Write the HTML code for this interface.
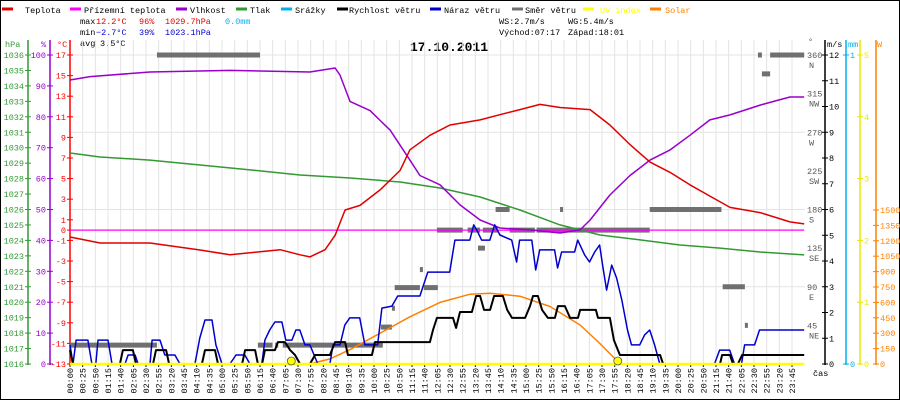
<!DOCTYPE html>
<html><head><meta charset="utf-8"><style>
html,body{margin:0;padding:0;background:#fff}
svg{display:block}
text{font-family:"Liberation Mono",monospace;font-size:8.5px}
</style></head><body>
<svg id="chart" width="900" height="400" viewBox="0 0 900 400" xmlns="http://www.w3.org/2000/svg">
<rect x="0.5" y="0.5" width="899" height="399" fill="#fff" stroke="#000"/>
<g id="legend"></g>
<g>
<text x="80" y="24">max</text>
<text x="96" y="24" fill="#e00000">12.2°C</text>
<text x="139" y="24" fill="#e00000">96%</text>
<text x="165" y="24" fill="#e00000">1029.7hPa</text>
<text x="225" y="24" fill="#00b0f0">0.0mm</text>
<text x="80" y="35">min</text>
<text x="96" y="35" fill="#0000d0">−2.7°C</text>
<text x="139" y="35" fill="#0000d0">39%</text>
<text x="165" y="35" fill="#0000d0">1023.1hPa</text>
<text x="80" y="46">avg</text>
<text x="100" y="46">3.5°C</text>
<text x="499" y="24">WS:2.7m/s</text>
<text x="568" y="24">WG:5.4m/s</text>
<text x="499" y="35">Východ:07:17</text>
<text x="568" y="35">Západ:18:01</text>
<text x="449" y="51" text-anchor="middle" style="font-size:13px;font-weight:bold">17.10.2011</text>
</g>
<g id="grid"></g>
<g id="axes"></g>
<g id="series"></g>
</svg>
<script>
// ---- data ----
const tempH=[0,0.99,2.63,4.28,5.26,6.25,6.91,7.57,7.89,8.39,8.72,9.05,9.54,10.2,10.86,11.18,11.84,12.5,13.49,14.14,14.8,15.46,16.12,17.11,17.76,18.42,19.08,19.74,20.39,21.05,21.71,22.7,23.68,24.15];
const tempV=[-0.67,-1.25,-1.25,-1.93,-2.4,-2.1,-1.9,-2.4,-2.6,-1.9,-0.5,1.95,2.4,3.9,5.8,7.8,9.2,10.2,10.7,11.2,11.7,12.2,11.9,11.7,10.2,8.3,6.6,5.6,4.4,3.3,2.2,1.7,0.8,0.6];
const feelH=[0,24.15];
const feelV=[0,0];
const humH=[0,0.66,2.63,5.26,7.89,8.72,8.88,9.21,9.87,10.53,11.18,11.51,12.17,12.83,13.49,14.14,15.13,16.12,16.78,17.11,17.76,18.42,19.08,19.74,20.39,21.05,21.71,22.7,23.68,24.15];
const humV=[91.9,93,94.5,95,94.5,95.8,93.5,85,82,75.7,66,61,58,51.5,46.6,44,43.4,42.4,43.4,46.6,54.7,61,66,69.3,74,79,80.6,83.8,86.4,86.4];
const presH=[0,0.99,2.63,4.28,5.92,7.57,9.21,10.86,12.17,13.49,14.8,16.12,17.43,18.75,20.07,21.38,22.7,24.15];
const presV=[1029.66,1029.4,1029.2,1028.88,1028.56,1028.23,1028.04,1027.78,1027.39,1026.81,1025.97,1025.0,1024.35,1024.03,1023.7,1023.5,1023.25,1023.06];
const gustH=[0,0.1,0.2,0.59,0.72,0.85,0.92,1.25,1.38,1.81,1.91,2.14,2.24,2.63,2.7,2.96,3.12,3.45,3.62,4.11,4.27,4.44,4.67,4.8,5,5.26,5.46,5.75,5.92,6.31,6.41,6.57,6.74,6.97,7.1,7.3,7.43,7.56,7.73,7.89,8.15,8.55,8.65,8.88,9.04,9.2,9.53,9.7,10.12,10.26,10.59,10.78,11.51,11.77,12.49,12.66,13.15,13.28,13.41,13.54,13.81,13.97,14.14,14.53,14.69,14.79,15.19,15.32,15.45,15.94,16.04,16.17,16.6,16.7,16.93,17.09,17.26,17.42,17.52,17.65,17.82,17.98,18.15,18.34,18.47,18.74,18.9,19.07,19.23,19.4,21.2,21.37,21.7,21.86,22.09,22.19,22.52,22.68,24.15];
const gustV=[0.74,0,0.93,0.93,0,0,0.93,0.93,0,0,0.35,0.35,0,0,0.93,0.93,0.35,0.35,0,0,1.01,1.71,1.71,0.74,0,0,0.35,0.35,0,0,0.93,1.32,1.63,1.63,0.93,0.93,1.32,1.32,0.74,0.74,0,0,0.74,0.74,1.51,1.79,1.79,0.74,0.74,2.17,2.25,2.64,2.64,3.57,3.57,4.81,4.81,5.4,5.13,4.81,4.81,5.4,5.01,4.81,3.96,4.81,4.81,3.65,4.43,4.43,3.73,4.35,4.35,4.81,4.23,3.96,4.35,4.62,3.84,2.87,3.84,3.34,2.49,1.32,0.74,0.74,1.13,1.32,0.74,0,0,0.54,0.54,0,0,0.74,0.74,1.32,1.32];
const windH=[0,0.1,1.64,1.74,2.07,2.17,2.73,2.83,3.16,3.26,4.34,4.44,4.77,4.87,5.66,5.76,6.09,6.18,6.32,6.41,6.74,6.84,7.07,7.24,7.4,7.57,7.89,8.06,8.55,8.72,9.05,9.14,9.93,10.03,11.84,11.94,12.07,12.6,12.7,12.83,13.22,13.36,13.49,13.62,13.82,13.95,14.24,14.38,14.54,14.97,15.13,15.23,15.39,15.53,15.72,15.95,16.05,16.28,16.45,16.71,16.78,17.3,17.37,17.76,17.89,18.09,19.41,19.51,21.38,21.45,21.71,21.81,21.97,22.11,24.15];
const windV=[0.54,0,0,0.54,0.54,0,0,0.54,0.54,0,0,0.54,0.54,0,0,0.54,0.54,0,0,0.54,0.54,0.85,0.85,0.54,0.35,0,0,0.35,0.35,0.85,0.85,0.35,0.35,0.85,0.85,1.32,1.79,1.79,1.4,2.02,2.02,2.64,2.64,2.1,2.1,2.64,2.64,2.1,1.79,1.79,2.25,2.64,2.64,2.1,1.79,1.79,2.25,2.25,1.79,1.79,2.1,2.1,1.79,1.79,0.93,0.35,0.35,0,0,0.35,0.35,0,0,0.35,0.35];
const dirStart=[0,2.86,6.18,6.75,7.0,10.23,10.59,10.68,11.64,11.51,12.07,13.08,13.58,14.0,13.42,14.46,15.35,16.12,19.07,21.47,22.2,22.63,22.76,23.03];
const dirEnd=[2.86,6.25,6.66,6.84,10.29,10.59,10.66,11.51,12.1,11.6,12.92,13.49,14.07,14.46,13.65,15.29,19.07,16.21,21.43,22.2,22.3,22.76,23.03,24.15];
const dirV=[22,360,22,22,22,43,65,89,89,110,156,156,156,180,135,156,156,180,180,90,45,360,338,360];
const solarH=[7.89,8.55,9.21,10.2,11.18,12.17,13.16,13.82,14.8,15.79,16.78,17.43,17.93,18.09];
const solarV=[0,50,140,300,460,600,680,690,660,560,380,200,50,0];
const uvH=[0,24.15];
const uvV=[0,0];
const sunEventsH=[7.28,18.02];
const tempTicks=[17,15,13,11,9,7,5,3,1,0,-1,-3,-5,-7,-9,-11,-13];
const humTicks=[0,10,20,30,40,50,60,70,80,90,100];
const presTicks=[1016,1017,1018,1019,1020,1021,1022,1023,1024,1025,1026,1027,1028,1029,1030,1031,1032,1033,1034,1035,1036];
const windTicks=[0,1,2,3,4,5,6,7,8,9,10,11,12];
const dirTicks=[45,90,135,180,225,270,315,360];
const dirNames=['NE','E','SE','S','SW','W','NW','N'];
const uvTicks=[0,1,2,3,4,5];
const solarTicks=[0,150,300,450,600,750,900,1050,1200,1350,1500];
const rainTicks=[0,1];

// ---- scales ----
const X0=70,PX=30.4,Y0=364,YT=55,H=Y0-YT;
const xs=h=>X0+h*PX;
const yT=t=>Y0-(t+13)/30*H;
const yHum=v=>Y0-v/100*H;
const yP=p=>Y0-(p-1016)/20*H;
const yW=v=>Y0-v/12*H;
const yDir=d=>Y0-d/360*H;
const yUV=u=>Y0-u/5*H;
const ySol=w=>Y0-w/1500*(Y0-210);
const yRain=r=>Y0-r*H;

const NS='http://www.w3.org/2000/svg';
function mk(tag,parent,attrs){const e=document.createElementNS(NS,tag);for(const k in attrs)e.setAttribute(k,attrs[k]);parent.appendChild(e);return e;}
const gGrid=document.getElementById('grid'),gAx=document.getElementById('axes'),gS=document.getElementById('series'),gL=document.getElementById('legend');

// legend
const legNames=['Teplota','Přízemní teplota','Vlhkost','Tlak','Srážky','Rychlost větru','Náraz větru','Směr větru','UV index','Solar'];
const legColors=['#e00000','#ff00ff','#9900cc','#339933','#00b0f0','#000000','#0000cc','#707070','#ffff00','#ff8000'];
const legDash=[2,70,176,236,281,337,430,512,583,650];
const legText=[25,84,190,250,295,349,444,525,600,665];
legNames.forEach((n,i)=>{
 const r=mk('rect',gL,{x:legDash[i],y:7.5,width:11,height:3,fill:legColors[i]});
 
 
 const t=mk('text',gL,{x:legText[i],y:13,fill:(i>=8?legColors[i]:'#000')});
 t.textContent=n;
 
 
});

// grid
for(let k=0;k<=57;k++){const x=X0+k*25/60*PX;
 const l=mk('line',gGrid,{x1:x,x2:x,y1:YT-15,y2:Y0,stroke:'#e4e4e4','stroke-width':1});
 
 
 const tk=mk('line',gAx,{x1:x,x2:x,y1:Y0,y2:Y0+3,stroke:'#000'});
 
 
 const m=k*25,hh=String(Math.floor(m/60)).padStart(2,'0'),mm=String(m%60).padStart(2,'0');
 const t=mk('text',gAx,{x:0,y:0,transform:`translate(${x+3},368) rotate(-90)`,'text-anchor':'end'});
 t.textContent=hh+':'+mm;
 
 
}
[3,6,9,12].forEach(v=>{const y=yW(v);
 const l=mk('line',gGrid,{x1:X0,x2:805,y1:y,y2:y,stroke:'#e4e4e4'});
 
 
});
const cas=mk('text',gAx,{x:813,y:376});cas.textContent='čas';



// axes helper
function vaxis(x,color,ticks,yf,labels,side,name,title,tx){
 const a=mk('line',gAx,{x1:x,x2:x,y1:40,y2:Y0+1,stroke:color,'stroke-width':1.5});
 
 
 ticks.forEach((v,i)=>{const y=yf(v);
  const tk=mk('line',gAx,{x1:x-3,x2:x+3,y1:y,y2:y,stroke:color});
  
  
  const t=mk('text',gAx,{x:side<0?x-4:x+4,y:y+3,fill:color,'text-anchor':side<0?'end':'start'});
  t.textContent=labels[i];
  
  
 });
 const tt=mk('text',gAx,{x:tx,y:47,fill:color});tt.textContent=title;
 
 
}
vaxis(28,'#339933',presTicks,yP,presTicks,-1,'pressure','hPa',5);
vaxis(50,'#9900cc',humTicks,yHum,humTicks,-1,'humidity','%',41);
vaxis(70,'#ff0000',tempTicks,yT,tempTicks,-1,'temperature','°C',57);
vaxis(825,'#000',windTicks,yW,windTicks,1,'wind','m/s',827);
vaxis(846,'#00b0f0',rainTicks,yRain,rainTicks,1,'rain','mm',848);
vaxis(860,'#e8e800',uvTicks,yUV,uvTicks,1,'uv','',862);
const wax=mk('line',gAx,{x1:876,x2:876,y1:40,y2:Y0+1,stroke:'#ff8000','stroke-width':1.5});


solarTicks.forEach(v=>{const y=ySol(v);
 const tk=mk('line',gAx,{x1:873,x2:879,y1:y,y2:y,stroke:'#ff8000'});
 
 
 const t=mk('text',gAx,{x:880,y:y+3,fill:'#ff8000'});t.textContent=v;
 
 
});
const wt=mk('text',gAx,{x:877,y:47,fill:'#ff8000'});wt.textContent='W';


const dg=mk('text',gAx,{x:808,y:44,fill:'#555'});dg.textContent='°';


dirTicks.forEach((d,i)=>{const y=yDir(d);
 const t=mk('text',gAx,{x:807,y:y+3,fill:'#555'});t.textContent=d;
 
 
 const n=mk('text',gAx,{x:809,y:y+13,fill:'#555'});n.textContent=dirNames[i];
 
 
});

// series
function line(hs,vs,yf,color,name,w){
 const pts=hs.map((h,i)=>xs(h).toFixed(1)+','+yf(vs[i]).toFixed(1)).join(' ');
 const p=mk('polyline',gS,{points:pts,fill:'none',stroke:color,'stroke-width':w||1.5,'stroke-linejoin':'round'});
 
 
}
dirV.forEach((d,i)=>{
 const r=mk('rect',gS,{x:xs(dirStart[i]),y:yDir(d)-2.5,width:Math.max(3,xs(dirEnd[i])-xs(dirStart[i])),height:5,fill:'#707070'});
 
 
});
line(feelH,feelV,yT,'#ff00ff','feels-like-line',1.2);
line(presH,presV,yP,'#339933','pressure-line');
line(humH,humV,yHum,'#9900cc','humidity-line');
line(tempH,tempV,yT,'#e00000','temperature-line');
line(solarH,solarV,ySol,'#ff8000','solar-line');
line(gustH,gustV,yW,'#0000cc','wind-gust-line');
line(windH,windV,yW,'#000000','wind-speed-line',2);
line(uvH,uvV,yUV,'#ffff00','uv-line',2.5);
sunEventsH.forEach(h=>{
 const c=mk('circle',gS,{cx:xs(h),cy:Y0-3,r:4,fill:'#ffff00',stroke:'#555','stroke-width':0.8});
 
 
});
</script>
</body></html>
